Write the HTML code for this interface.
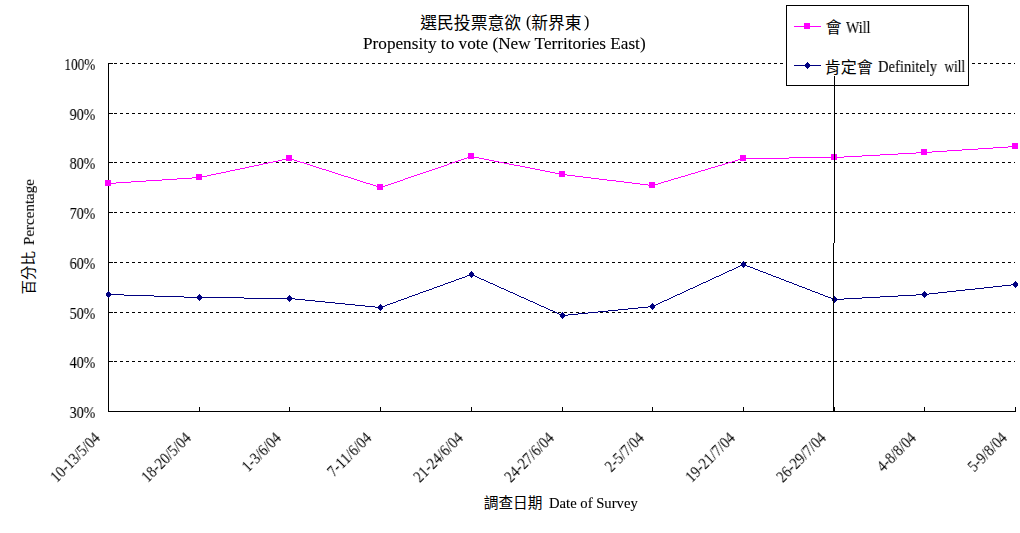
<!DOCTYPE html>
<html lang="zh-Hant"><head><meta charset="utf-8"><title>Propensity to vote (New Territories East)</title>
<style>html,body{margin:0;padding:0;background:#fff}
#c{position:relative;width:1020px;height:533px;overflow:hidden;background:#fff;font-family:"Liberation Serif",serif;color:#000}
.t{position:absolute;white-space:nowrap;line-height:1.149;margin:0;padding:0;will-change:transform;-webkit-text-stroke:0.1px #000}
.h{position:absolute;white-space:nowrap;color:transparent;line-height:1}</style></head>
<body><div id="c">
<svg width="1020" height="533" viewBox="0 0 1020 533" style="position:absolute;left:0;top:0"><rect width="1020" height="533" fill="#fff"/><g stroke="#000" stroke-width="1" stroke-dasharray="3 3" shape-rendering="crispEdges"><line x1="108" y1="63.5" x2="1015" y2="63.5"/><line x1="108" y1="113.5" x2="1015" y2="113.5"/><line x1="108" y1="162.5" x2="1015" y2="162.5"/><line x1="108" y1="212.5" x2="1015" y2="212.5"/><line x1="108" y1="262.5" x2="1015" y2="262.5"/><line x1="108" y1="312.5" x2="1015" y2="312.5"/><line x1="108" y1="361.5" x2="1015" y2="361.5"/></g><g stroke="#000" stroke-width="1" shape-rendering="crispEdges" fill="none"><line x1="108.5" y1="63" x2="108.5" y2="412"/><line x1="108" y1="411.5" x2="1016" y2="411.5"/><line x1="199.5" y1="407" x2="199.5" y2="411"/><line x1="289.5" y1="407" x2="289.5" y2="411"/><line x1="380.5" y1="407" x2="380.5" y2="411"/><line x1="471.5" y1="407" x2="471.5" y2="411"/><line x1="562.5" y1="407" x2="562.5" y2="411"/><line x1="652.5" y1="407" x2="652.5" y2="411"/><line x1="743.5" y1="407" x2="743.5" y2="411"/><line x1="834.5" y1="407" x2="834.5" y2="411"/><line x1="924.5" y1="407" x2="924.5" y2="411"/><line x1="1015.5" y1="407" x2="1015.5" y2="411"/><line x1="108" y1="63.5" x2="113" y2="63.5"/><line x1="108" y1="113.5" x2="113" y2="113.5"/><line x1="108" y1="162.5" x2="113" y2="162.5"/><line x1="108" y1="212.5" x2="113" y2="212.5"/><line x1="108" y1="262.5" x2="113" y2="262.5"/><line x1="108" y1="312.5" x2="113" y2="312.5"/><line x1="108" y1="361.5" x2="113" y2="361.5"/></g><path d="M108 183.5h8M116 182.5h15M131 181.5h15M146 180.5h16M162 179.5h15M177 178.5h15M192 177.5h10M202 176.5h5M207 175.5h4M211 174.5h5M216 173.5h5M221 172.5h5M226 171.5h4M230 170.5h5M235 169.5h5M240 168.5h5M245 167.5h4M249 166.5h5M254 165.5h5M259 164.5h4M263 163.5h5M268 162.5h5M273 161.5h5M278 160.5h4M282 159.5h5M287 158.5h4M291 159.5h3M294 160.5h3M297 161.5h3M300 162.5h4M304 163.5h3M307 164.5h3M310 165.5h3M313 166.5h3M316 167.5h3M319 168.5h3M322 169.5h4M326 170.5h3M329 171.5h3M332 172.5h3M335 173.5h3M338 174.5h3M341 175.5h3M344 176.5h4M348 177.5h3M351 178.5h3M354 179.5h3M357 180.5h3M360 181.5h3M363 182.5h3M366 183.5h4M370 184.5h3M373 185.5h3M376 186.5h3M379 187.5h3M382 186.5h3M385 185.5h3M388 184.5h3M391 183.5h3M394 182.5h3M397 181.5h3M400 180.5h3M403 179.5h2M405 178.5h3M408 177.5h3M411 176.5h3M414 175.5h3M417 174.5h3M420 173.5h3M423 172.5h3M426 171.5h3M429 170.5h3M432 169.5h3M435 168.5h3M438 167.5h3M441 166.5h3M444 165.5h3M447 164.5h2M449 163.5h3M452 162.5h3M455 161.5h3M458 160.5h3M461 159.5h3M464 158.5h3M467 157.5h3M470 156.5h4M474 157.5h5M479 158.5h5M484 159.5h5M489 160.5h5M494 161.5h5M499 162.5h5M504 163.5h5M509 164.5h5M514 165.5h6M520 166.5h5M525 167.5h5M530 168.5h5M535 169.5h5M540 170.5h5M545 171.5h5M550 172.5h5M555 173.5h5M560 174.5h7M567 175.5h8M575 176.5h8M583 177.5h8M591 178.5h8M599 179.5h8M607 180.5h9M616 181.5h8M624 182.5h8M632 183.5h8M640 184.5h8M648 185.5h6M654 184.5h4M658 183.5h3M661 182.5h3M664 181.5h4M668 180.5h3M671 179.5h3M674 178.5h4M678 177.5h3M681 176.5h4M685 175.5h3M688 174.5h3M691 173.5h4M695 172.5h3M698 171.5h3M701 170.5h4M705 169.5h3M708 168.5h3M711 167.5h4M715 166.5h3M718 165.5h4M722 164.5h3M725 163.5h3M728 162.5h4M732 161.5h3M735 160.5h3M738 159.5h4M742 158.5h47M789 157.5h55M844 156.5h18M862 155.5h18M880 154.5h18M898 153.5h18M916 152.5h16M932 151.5h15M947 150.5h15M962 149.5h16M978 148.5h15M993 147.5h15M1008 146.5h8" fill="none" stroke="#ff00ff" stroke-width="1" shape-rendering="crispEdges"/><rect x="105" y="180" width="6" height="6" fill="#ff00ff" shape-rendering="crispEdges"/><rect x="196" y="174" width="6" height="6" fill="#ff00ff" shape-rendering="crispEdges"/><rect x="286" y="155" width="6" height="6" fill="#ff00ff" shape-rendering="crispEdges"/><rect x="377" y="184" width="6" height="6" fill="#ff00ff" shape-rendering="crispEdges"/><rect x="468" y="153" width="6" height="6" fill="#ff00ff" shape-rendering="crispEdges"/><rect x="559" y="171" width="6" height="6" fill="#ff00ff" shape-rendering="crispEdges"/><rect x="649" y="182" width="6" height="6" fill="#ff00ff" shape-rendering="crispEdges"/><rect x="740" y="155" width="6" height="6" fill="#ff00ff" shape-rendering="crispEdges"/><rect x="831" y="154" width="6" height="6" fill="#ff00ff" shape-rendering="crispEdges"/><rect x="921" y="149" width="6" height="6" fill="#ff00ff" shape-rendering="crispEdges"/><rect x="1012" y="143" width="6" height="6" fill="#ff00ff" shape-rendering="crispEdges"/><path d="M108 294.5h16M124 295.5h30M154 296.5h30M184 297.5h60M244 298.5h51M295 299.5h10M305 300.5h10M315 301.5h10M325 302.5h10M335 303.5h10M345 304.5h10M355 305.5h10M365 306.5h10M375 307.5h7M382 306.5h3M385 305.5h2M387 304.5h3M390 303.5h3M393 302.5h3M396 301.5h2M398 300.5h3M401 299.5h3M404 298.5h3M407 297.5h2M409 296.5h3M412 295.5h3M415 294.5h3M418 293.5h2M420 292.5h3M423 291.5h3M426 290.5h3M429 289.5h3M432 288.5h2M434 287.5h3M437 286.5h3M440 285.5h3M443 284.5h2M445 283.5h3M448 282.5h3M451 281.5h3M454 280.5h2M456 279.5h3M459 278.5h3M462 277.5h3M465 276.5h2M467 275.5h3M470 274.5h3M473 275.5h2M475 276.5h2M477 277.5h2M479 278.5h2M481 279.5h3M484 280.5h2M486 281.5h2M488 282.5h2M490 283.5h3M493 284.5h2M495 285.5h2M497 286.5h2M499 287.5h2M501 288.5h3M504 289.5h2M506 290.5h2M508 291.5h2M510 292.5h3M513 293.5h2M515 294.5h2M517 295.5h2M519 296.5h2M521 297.5h3M524 298.5h2M526 299.5h2M528 300.5h2M530 301.5h3M533 302.5h2M535 303.5h2M537 304.5h2M539 305.5h2M541 306.5h3M544 307.5h2M546 308.5h2M548 309.5h2M550 310.5h3M553 311.5h2M555 312.5h2M557 313.5h2M559 314.5h2M561 315.5h7M568 314.5h10M578 313.5h10M588 312.5h10M598 311.5h10M608 310.5h10M618 309.5h10M628 308.5h10M638 307.5h10M648 306.5h6M654 305.5h2M656 304.5h2M658 303.5h2M660 302.5h2M662 301.5h2M664 300.5h3M667 299.5h2M669 298.5h2M671 297.5h2M673 296.5h2M675 295.5h2M677 294.5h3M680 293.5h2M682 292.5h2M684 291.5h2M686 290.5h2M688 289.5h2M690 288.5h3M693 287.5h2M695 286.5h2M697 285.5h2M699 284.5h2M701 283.5h2M703 282.5h3M706 281.5h2M708 280.5h2M710 279.5h2M712 278.5h2M714 277.5h2M716 276.5h3M719 275.5h2M721 274.5h2M723 273.5h2M725 272.5h2M727 271.5h2M729 270.5h3M732 269.5h2M734 268.5h2M736 267.5h2M738 266.5h2M740 265.5h2M742 264.5h3M745 265.5h2M747 266.5h3M750 267.5h3M753 268.5h2M755 269.5h3M758 270.5h2M760 271.5h3M763 272.5h3M766 273.5h2M768 274.5h3M771 275.5h2M773 276.5h3M776 277.5h3M779 278.5h2M781 279.5h3M784 280.5h2M786 281.5h3M789 282.5h3M792 283.5h2M794 284.5h3M797 285.5h2M799 286.5h3M802 287.5h3M805 288.5h2M807 289.5h3M810 290.5h2M812 291.5h3M815 292.5h3M818 293.5h2M820 294.5h3M823 295.5h2M825 296.5h3M828 297.5h3M831 298.5h2M833 299.5h11M844 298.5h18M862 297.5h18M880 296.5h18M898 295.5h18M916 294.5h13M929 293.5h9M938 292.5h9M947 291.5h9M956 290.5h9M965 289.5h10M975 288.5h9M984 287.5h9M993 286.5h9M1002 285.5h9M1011 284.5h5" fill="none" stroke="#000080" stroke-width="1" shape-rendering="crispEdges"/><path d="M108 291h1v1h1v1h1v3h-1v1h-1v1h-1v-1h-1v-1h-1v-3h1v-1h1z" fill="#000080" shape-rendering="crispEdges"/><path d="M199 294h1v1h1v1h1v3h-1v1h-1v1h-1v-1h-1v-1h-1v-3h1v-1h1z" fill="#000080" shape-rendering="crispEdges"/><path d="M289 295h1v1h1v1h1v3h-1v1h-1v1h-1v-1h-1v-1h-1v-3h1v-1h1z" fill="#000080" shape-rendering="crispEdges"/><path d="M380 304h1v1h1v1h1v3h-1v1h-1v1h-1v-1h-1v-1h-1v-3h1v-1h1z" fill="#000080" shape-rendering="crispEdges"/><path d="M471 271h1v1h1v1h1v3h-1v1h-1v1h-1v-1h-1v-1h-1v-3h1v-1h1z" fill="#000080" shape-rendering="crispEdges"/><path d="M562 312h1v1h1v1h1v3h-1v1h-1v1h-1v-1h-1v-1h-1v-3h1v-1h1z" fill="#000080" shape-rendering="crispEdges"/><path d="M652 303h1v1h1v1h1v3h-1v1h-1v1h-1v-1h-1v-1h-1v-3h1v-1h1z" fill="#000080" shape-rendering="crispEdges"/><path d="M743 261h1v1h1v1h1v3h-1v1h-1v1h-1v-1h-1v-1h-1v-3h1v-1h1z" fill="#000080" shape-rendering="crispEdges"/><path d="M834 296h1v1h1v1h1v3h-1v1h-1v1h-1v-1h-1v-1h-1v-3h1v-1h1z" fill="#000080" shape-rendering="crispEdges"/><path d="M924 291h1v1h1v1h1v3h-1v1h-1v1h-1v-1h-1v-1h-1v-3h1v-1h1z" fill="#000080" shape-rendering="crispEdges"/><path d="M1015 281h1v1h1v1h1v3h-1v1h-1v1h-1v-1h-1v-1h-1v-3h1v-1h1z" fill="#000080" shape-rendering="crispEdges"/><rect x="786.5" y="5.5" width="182" height="80" fill="#fff" stroke="#000" stroke-width="1" shape-rendering="crispEdges"/><line x1="794" y1="26.5" x2="821" y2="26.5" stroke="#ff00ff" shape-rendering="crispEdges"/><rect x="804" y="23" width="6" height="6" fill="#ff00ff" shape-rendering="crispEdges"/><line x1="794" y1="65.5" x2="821" y2="65.5" stroke="#000080" shape-rendering="crispEdges"/><path d="M807 62h1v1h1v1h1v3h-1v1h-1v1h-1v-1h-1v-1h-1v-3h1v-1h1z" fill="#000080" shape-rendering="crispEdges"/><path d="M834.5 76V243M833.5 243V411" stroke="#000" fill="none" shape-rendering="crispEdges"/><g fill="#000" font-family="'Liberation Serif','Noto Sans CJK TC',sans-serif"><text x="420.3" y="28.6" font-size="16.8">選民投票意欲</text><text x="531.2" y="28.6" font-size="16.8">新界東</text><text x="825.5" y="33.4" font-size="16">會</text><text x="824.8" y="72.6" font-size="16">肯定會</text><text x="483.8" y="508.4" font-size="14.67">調查日期</text><g transform="translate(20.8 294.6) rotate(-90)"><text x="0" y="12.76" font-size="14.5">百分比</text></g></g></svg>
<div id="title"><div class="t" style="left:526.0px;transform-origin:0 0;top:13.34px;font-size:16px;transform:scaleX(1.0);">(</div><div class="t" style="left:583.8px;transform-origin:0 0;top:13.34px;font-size:16px;transform:scaleX(1.0);">)</div><div class="t" style="left:362.6px;transform-origin:0 0;top:35.34px;font-size:16px;transform:scaleX(1.0747);">Propensity to vote (New Territories East)</div></div><div id="legend"><div class="t" style="left:846.2px;transform-origin:0 0;top:18.74px;font-size:16px;transform:scaleX(0.88);">Will</div><div class="t" style="left:878px;transform-origin:0 0;top:57.74px;font-size:16px;transform:scaleX(0.911);word-spacing:4.2px;">Definitely <span style="display:inline-block;transform:scaleX(.905);transform-origin:0 0">will</span></div></div><div id="yaxis"><div class="t" style="left:34.1px;top:231.53px;font-size:14.67px;transform-origin:0 13.071px;transform:rotate(-90deg) scaleX(1.026)">Percentage</div><div class="t" style="right:924.7px;transform-origin:100% 0;top:55.94px;font-size:16px;transform:scaleX(0.83);">100%</div><div class="t" style="right:924.7px;transform-origin:100% 0;top:105.94px;font-size:16px;transform:scaleX(0.876);">90%</div><div class="t" style="right:924.7px;transform-origin:100% 0;top:154.94px;font-size:16px;transform:scaleX(0.876);">80%</div><div class="t" style="right:924.7px;transform-origin:100% 0;top:204.94px;font-size:16px;transform:scaleX(0.876);">70%</div><div class="t" style="right:924.7px;transform-origin:100% 0;top:254.94px;font-size:16px;transform:scaleX(0.876);">60%</div><div class="t" style="right:924.7px;transform-origin:100% 0;top:304.94px;font-size:16px;transform:scaleX(0.876);">50%</div><div class="t" style="right:924.7px;transform-origin:100% 0;top:353.94px;font-size:16px;transform:scaleX(0.876);">40%</div><div class="t" style="right:924.7px;transform-origin:100% 0;top:403.94px;font-size:16px;transform:scaleX(0.876);">30%</div></div><div id="xaxis"><div class="t" style="right:919.0px;top:424.94px;font-size:16px;transform-origin:100% 14.256px;transform:rotate(-45deg) scaleX(0.89);-webkit-text-stroke:0">10-13/5/04</div><div class="t" style="right:828.0px;top:424.94px;font-size:16px;transform-origin:100% 14.256px;transform:rotate(-45deg) scaleX(0.89);-webkit-text-stroke:0">18-20/5/04</div><div class="t" style="right:738.0px;top:424.94px;font-size:16px;transform-origin:100% 14.256px;transform:rotate(-45deg) scaleX(0.88);-webkit-text-stroke:0">1-3/6/04</div><div class="t" style="right:647.0px;top:424.94px;font-size:16px;transform-origin:100% 14.256px;transform:rotate(-45deg) scaleX(0.888);-webkit-text-stroke:0">7-11/6/04</div><div class="t" style="right:556.0px;top:424.94px;font-size:16px;transform-origin:100% 14.256px;transform:rotate(-45deg) scaleX(0.89);-webkit-text-stroke:0">21-24/6/04</div><div class="t" style="right:465.0px;top:424.94px;font-size:16px;transform-origin:100% 14.256px;transform:rotate(-45deg) scaleX(0.89);-webkit-text-stroke:0">24-27/6/04</div><div class="t" style="right:375.0px;top:424.94px;font-size:16px;transform-origin:100% 14.256px;transform:rotate(-45deg) scaleX(0.88);-webkit-text-stroke:0">2-5/7/04</div><div class="t" style="right:284.0px;top:424.94px;font-size:16px;transform-origin:100% 14.256px;transform:rotate(-45deg) scaleX(0.89);-webkit-text-stroke:0">19-21/7/04</div><div class="t" style="right:193.0px;top:424.94px;font-size:16px;transform-origin:100% 14.256px;transform:rotate(-45deg) scaleX(0.89);-webkit-text-stroke:0">26-29/7/04</div><div class="t" style="right:103.0px;top:424.94px;font-size:16px;transform-origin:100% 14.256px;transform:rotate(-45deg) scaleX(0.88);-webkit-text-stroke:0">4-8/8/04</div><div class="t" style="right:12.0px;top:424.94px;font-size:16px;transform-origin:100% 14.256px;transform:rotate(-45deg) scaleX(0.88);-webkit-text-stroke:0">5-9/8/04</div><div class="t" style="left:548.9px;transform-origin:0 0;top:494.93px;font-size:14.67px;transform:scaleX(1.0);">Date of Survey</div></div>
</div></body></html>
